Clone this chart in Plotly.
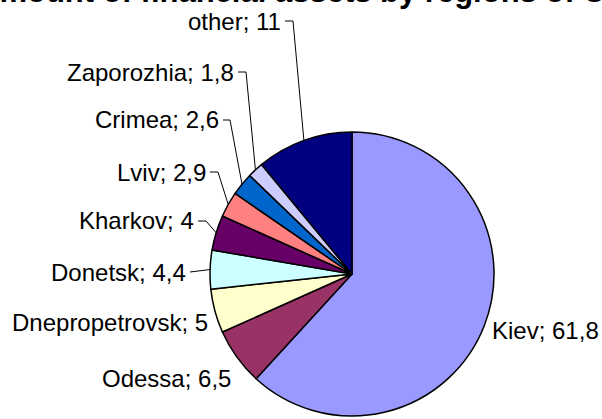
import math
import plotly.graph_objects as go

# ---- data ----
regions = ["Kiev", "Odessa", "Dnepropetrovsk", "Donetsk", "Kharkov",
           "Lviv", "Crimea", "Zaporozhia", "other"]
values = [61.8, 6.5, 5, 4.4, 4, 2.9, 2.6, 1.8, 11]
value_text = ["61,8", "6,5", "5", "4,4", "4", "2,9", "2,6", "1,8", "11"]
colors = ["#9999FF", "#993366", "#FFFFCC", "#CCFFFF", "#660066",
          "#FF8080", "#0066CC", "#CCCCFF", "#000080"]
title_text = "Amount of financial assets by regions of Ukraine"

# ---- layout (pixel positions in the 602x419 window) ----
W, H = 602, 419
cx, cy, R = 352, 274, 142
# label anchor: (x, y, side) side 'right' -> text ends at x, 'left' -> text starts at x
label_pos = {
    "Kiev": (490, 330, "left"),
    "Odessa": (233, 378, "right"),
    "Dnepropetrovsk": (210, 322, "right"),
    "Donetsk": (188, 272, "right"),
    "Kharkov": (196, 221, "right"),
    "Lviv": (208, 172, "right"),
    "Crimea": (221, 120, "right"),
    "Zaporozhia": (236, 72, "right"),
    "other": (283, 21, "right"),
}
# leader line elbow (tick end) for labels that have leader lines
leader_elbow = {
    "Donetsk": None,
    "Kharkov": (206, 221),
    "Lviv": (218, 172),
    "Crimea": (230, 120),
    "Zaporozhia": (246, 72),
    "other": (293, 21),
}

def px(x, y):
    return x / W, 1 - y / H

fig = go.Figure()
fig.add_trace(go.Pie(
    labels=regions, values=values, sort=False, direction="clockwise",
    rotation=0, textinfo="none", hoverinfo="label+value",
    marker=dict(colors=colors, line=dict(color="#000000", width=1.5)),
    domain=dict(x=[px(cx - R, 0)[0], px(cx + R, 0)[0]],
                y=[px(0, cy + R)[1], px(0, cy - R)[1]]),
    showlegend=False,
))

annotations = []
shapes = []
total = sum(values)
cum = 0.0
font = dict(family="Liberation Sans, Arial, sans-serif", size=24, color="#000000")
for name, v, vt in zip(regions, values, value_text):
    theta = 2 * math.pi * (cum + v / 2) / total
    cum += v
    mx = cx + R * math.sin(theta)
    my = cy - R * math.cos(theta)
    lx, ly, side = label_pos[name]
    ax, ay = px(lx, ly)
    annotations.append(dict(
        text=f"{name}; {vt}", x=ax, y=ay, xref="paper", yref="paper",
        xanchor="right" if side == "right" else "left", yanchor="middle",
        showarrow=False, font=font,
    ))
    if name in leader_elbow:
        elbow = leader_elbow[name]
        pts = [(lx + 2, ly)]
        if elbow is not None:
            pts.append(elbow)
        pts.append((mx, my))
        path = "M " + " L ".join(f"{px(a, b)[0]},{px(a, b)[1]}" for a, b in pts)
        shapes.append(dict(type="path", xref="paper", yref="paper", path=path,
                           line=dict(color="#000000", width=1)))

# title (cropped at the top of the picture)
annotations.append(dict(
    text=f"<b>{title_text}</b>", x=px(-25, 0)[0], y=1, xref="paper", yref="paper",
    xanchor="left", yanchor="bottom", yshift=-11, showarrow=False,
    font=dict(family="Liberation Sans, Arial, sans-serif", size=31, color="#000000"),
))

fig.update_layout(
    width=W, height=H, margin=dict(l=0, r=0, t=0, b=0),
    paper_bgcolor="#FFFFFF", plot_bgcolor="#FFFFFF",
    annotations=annotations, shapes=shapes,
)
fig.write_html("out.html", config={"displayModeBar": False},
               post_script="document.body.style.margin='0';document.body.style.overflow='hidden';")
